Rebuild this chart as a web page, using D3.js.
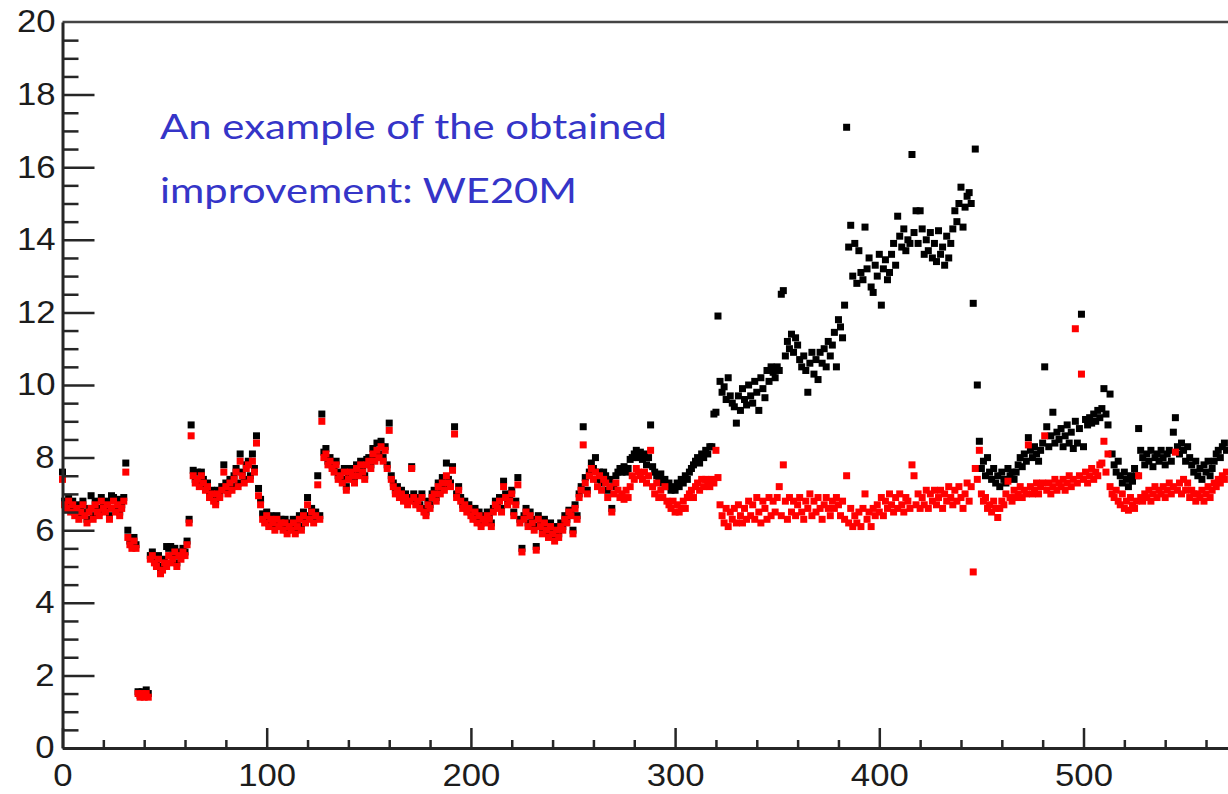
<!DOCTYPE html>
<html>
<head>
<meta charset="utf-8">
<script src="https://cdn.jsdelivr.net/npm/d3@7"></script>
<style>
  html, body { margin: 0; padding: 0; background: #fff; overflow: hidden; }
  svg { display: block; }
  .lbl text { transform-box: fill-box; transform-origin: center; transform: scaleX(1.12); }
</style>
</head>
<body>
<svg id="chart" width="1228" height="794"></svg>
<script>
// Tick labels
const xTickValues = [0, 100, 200, 300, 400, 500];
const yTickValues = [0, 2, 4, 6, 8, 10, 12, 14, 16, 18, 20];

// Series values, one per index along the x axis
const redValues = [
  7.4,6.7,6.6,6.8,6.5,6.7,6.4,6.6,6.3,6.5,
  6.7,6.4,6.2,6.5,6.6,6.3,6.7,6.5,6.4,6.8,
  6.6,6.5,6.7,6.3,6.6,6.8,6.5,6.7,6.4,6.6,
  6.8,7.6,5.8,5.6,5.5,5.7,5.5,1.5,1.4,1.5,
  1.4,1.5,1.4,5.2,5.3,5.1,5.0,5.2,4.8,
  4.9,5.1,5.0,5.3,5.1,5.2,5.4,5.0,5.3,5.2,
  5.4,5.3,5.6,6.2,8.6,7.5,7.3,7.4,7.2,7.5,
  7.3,7.1,7.2,6.9,7.0,6.8,6.7,7.0,6.9,7.1,
  7.6,7.2,7.0,7.3,7.1,7.4,7.6,7.2,7.9,7.5,
  7.3,7.7,7.8,7.4,7.9,7.6,8.4,6.95,6.7,6.3,
  6.2,6.4,6.1,6.3,6.2,6.0,6.3,6.1,6.2,6.0,
  6.2,5.9,6.1,6.0,6.2,5.9,6.1,6.3,6.0,6.4,
  6.2,6.7,6.3,6.5,6.2,6.4,7.25,6.3,9.0,8.0,
  8.1,7.8,7.9,7.7,7.6,7.8,7.4,7.5,7.3,7.6,
  7.1,7.4,7.6,7.5,7.3,7.7,7.5,7.8,7.6,7.4,
  7.8,7.9,7.7,8.1,7.9,8.2,8.0,8.3,7.9,8.2,
  7.7,8.75,7.4,7.2,7.0,7.1,6.9,7.0,6.8,6.9,
  6.7,6.8,7.7,6.9,6.7,6.8,6.6,6.9,6.5,6.4,
  6.7,6.6,6.9,7.0,6.8,7.2,7.0,7.3,7.1,7.5,
  7.3,7.2,7.65,8.65,6.9,7.1,6.8,6.6,6.7,6.5,
  6.6,6.4,6.3,6.5,6.2,6.4,6.1,6.3,6.2,6.4,
  6.3,6.1,6.5,6.7,6.6,6.8,6.5,7.2,6.9,
  6.7,6.8,7.0,6.4,6.7,7.25,6.2,5.4,6.3,6.5,
  6.1,6.4,6.2,6.0,5.45,6.3,6.1,5.9,6.2,6.0,
  5.8,6.1,5.9,5.7,6.0,5.8,6.1,6.0,6.3,6.2,
  6.5,6.4,5.9,6.6,6.3,6.9,7.1,8.35,7.3,7.0,
  7.5,7.7,7.4,7.6,7.2,7.5,7.1,7.4,7.3,6.9,
  7.2,6.5,7.0,7.3,7.1,6.9,7.0,6.85,7.1,6.9,
  7.2,7.5,7.4,7.7,7.6,7.5,7.4,7.6,7.3,7.5,
  8.2,7.2,7.0,7.3,6.9,7.1,6.9,7.2,6.8,6.7,
  6.6,6.8,6.5,6.7,6.5,6.6,6.8,6.6,6.9,7.0,
  7.1,6.9,7.2,7.3,7.1,7.4,7.2,7.4,7.3,7.2,
  7.4,7.3,8.2,7.45,6.7,6.4,6.2,6.6,6.1,6.5,
  6.3,6.6,6.2,6.7,6.4,6.2,6.6,6.3,6.8,6.4,
  6.7,6.3,6.9,6.5,6.2,6.8,6.6,6.3,6.9,6.4,
  6.8,6.5,6.9,7.2,6.4,7.8,6.8,6.3,6.9,6.5,
  6.8,6.4,6.7,6.9,6.5,6.3,6.8,6.6,7.0,6.4,
  6.8,6.5,6.9,6.6,6.3,6.7,6.9,6.6,6.4,6.8,
  6.6,6.9,6.7,6.4,6.8,6.3,7.5,6.2,6.6,
  6.1,6.4,6.2,6.5,6.1,6.6,7.0,6.3,6.5,6.1,
  6.6,6.4,6.7,6.5,6.9,6.4,6.8,6.6,7.0,6.7,
  6.5,6.9,6.6,7.0,6.7,6.5,6.9,6.8,6.6,7.8,
  7.5,6.7,7.0,6.6,6.9,6.7,7.1,6.6,7.0,6.8,
  7.1,6.7,6.9,7.1,6.6,7.0,6.8,7.2,6.9,6.7,
  7.1,6.8,7.2,6.9,6.6,7.0,7.3,6.8,7.2,4.85,
  7.7,7.4,8.2,7.0,6.8,6.9,6.6,6.7,6.5,6.8,
  6.6,6.35,6.6,6.8,6.7,7.0,7.35,6.9,6.8,7.1,
  6.9,7.0,7.2,6.9,7.1,7.0,8.35,7.2,7.0,7.1,
  7.3,7.0,7.2,7.3,8.6,7.1,7.3,7.0,7.2,7.4,
  7.1,7.3,7.2,7.4,7.1,7.3,7.5,7.2,7.4,11.55,
  7.3,7.5,10.3,7.4,7.6,7.3,7.5,7.7,7.4,7.6,
  7.5,7.8,7.85,8.45,7.6,8.1,7.2,7.0,6.9,7.1,
  6.8,6.7,7.0,6.6,6.8,6.55,6.9,6.7,6.6,6.8,
  7.5,6.9,6.8,7.0,6.9,7.1,6.8,7.0,7.2,6.9,
  7.1,7.0,7.2,6.9,7.1,7.3,7.0,7.2,8.15,7.1,
  7.3,7.0,7.4,7.1,7.3,6.9,7.1,7.0,6.8,
  7.0,6.9,7.1,6.8,7.0,7.2,6.9,7.1,7.3,7.2,
  7.4,7.3,7.5,7.4,7.6
];

const blackValues = [
  7.6,6.8,6.75,6.9,6.6,6.8,6.5,6.7,6.45,6.6,
  6.8,6.5,6.3,6.6,6.95,6.4,6.8,6.6,6.5,6.9,
  6.7,6.6,6.8,6.4,6.95,6.9,6.6,6.85,6.5,6.7,
  6.9,7.85,6.0,5.7,5.6,5.8,5.6,1.55,1.45,1.55,
  1.45,1.6,1.5,5.3,5.4,5.2,5.1,5.3,4.9,
  5.0,5.2,5.55,5.5,5.55,5.3,5.5,5.1,5.4,5.3,
  5.5,5.4,5.7,6.3,8.9,7.65,7.4,7.6,7.3,7.6,
  7.4,7.2,7.3,7.0,7.1,6.9,6.8,7.1,7.0,7.2,
  7.8,7.3,7.1,7.4,7.2,7.5,7.7,7.3,8.1,7.6,
  7.4,7.8,7.9,7.5,8.1,7.7,8.6,7.15,6.85,6.45,
  6.3,6.5,6.2,6.4,6.3,6.1,6.4,6.2,6.3,6.1,
  6.3,6.0,6.2,6.1,6.3,6.0,6.2,6.4,6.1,6.5,
  6.3,6.9,6.4,6.6,6.3,6.5,7.5,6.4,9.2,8.15,
  8.25,7.9,8.0,7.8,7.7,7.9,7.5,7.6,7.4,7.7,
  7.2,7.5,7.7,7.6,7.4,7.8,7.6,7.9,7.7,7.5,
  7.95,8.0,7.8,8.25,8.0,8.4,8.1,8.45,8.0,8.3,
  7.8,8.95,7.5,7.3,7.1,7.2,7.0,7.1,6.9,7.0,
  6.8,6.9,7.75,7.0,6.8,6.9,6.7,7.0,6.6,6.5,
  6.8,6.7,7.0,7.1,6.9,7.3,7.1,7.45,7.2,7.85,
  7.4,7.3,7.75,8.85,7.0,7.2,6.9,6.7,6.8,6.6,
  6.7,6.5,6.4,6.6,6.3,6.5,6.2,6.4,6.3,6.5,
  6.4,6.2,6.6,6.8,6.7,6.9,6.6,7.35,7.0,
  6.8,6.9,7.1,6.5,6.8,7.45,6.3,5.5,6.4,6.6,
  6.2,6.5,6.3,6.1,5.55,6.4,6.2,6.0,6.3,6.1,
  5.9,6.2,6.0,5.8,6.1,5.9,6.2,6.1,6.4,6.3,
  6.55,6.5,6.0,6.7,6.4,7.0,7.2,8.85,7.45,7.1,
  7.6,7.85,7.7,8.0,7.4,7.6,7.3,7.6,7.5,7.1,
  7.4,6.6,7.2,7.5,7.6,7.7,7.6,7.75,7.6,7.7,
  7.95,8.0,8.1,8.2,8.0,8.15,7.95,8.1,7.8,8.0,
  8.9,7.75,7.6,7.5,7.4,7.55,7.3,7.4,7.2,7.3,
  7.1,7.2,7.1,7.3,7.2,7.4,7.3,7.5,7.4,7.6,
  7.7,7.8,7.9,8.0,7.85,8.1,8.0,8.2,8.1,8.3,
  8.3,9.2,9.25,11.9,10.1,9.8,9.95,9.6,10.2,9.7,
  9.5,9.4,8.95,9.7,9.3,9.9,9.6,9.45,10.0,9.7,
  9.5,10.1,9.8,9.3,10.2,9.9,9.65,10.4,10.1,10.5,
  10.35,10.2,10.5,10.4,12.5,12.6,10.8,11.2,11.0,11.4,
  10.9,11.3,11.1,10.7,10.5,10.8,10.4,9.8,10.6,10.9,
  10.3,10.7,10.15,10.9,10.6,11.0,10.5,11.2,10.8,11.1,
  11.45,10.5,11.8,11.6,11.3,12.2,17.1,13.8,14.4,
  13.0,13.9,12.8,13.7,13.1,12.9,14.35,13.2,13.5,12.7,
  12.55,13.3,13.0,13.6,12.2,13.2,13.45,12.9,13.1,13.6,
  13.9,13.3,14.65,14.1,13.8,14.3,13.7,14.0,13.9,16.35,
  14.2,14.8,13.9,14.8,14.3,13.6,14.0,13.7,14.2,13.5,
  13.9,13.4,14.25,13.6,13.8,13.3,14.1,13.5,13.9,14.3,
  14.8,14.5,15.0,15.45,14.35,14.9,15.2,15.3,15.0,12.25,
  16.5,10.0,8.45,7.7,7.9,7.5,8.0,7.6,7.4,7.7,
  7.3,7.5,7.2,7.6,7.4,7.3,7.7,7.5,7.6,7.4,
  7.6,7.8,8.0,7.75,8.1,7.9,8.55,8.2,8.0,8.3,
  8.1,7.9,8.2,8.4,10.5,8.85,8.3,8.6,9.25,8.4,
  8.7,8.5,8.8,8.3,8.6,8.9,8.4,8.7,8.25,9.0,
  8.4,8.8,11.95,8.3,9.05,8.9,9.1,8.95,9.2,9.0,
  9.3,9.1,9.35,9.9,9.2,8.9,9.75,8.1,7.8,7.6,
  7.9,7.5,7.3,7.6,7.4,7.2,7.5,7.35,7.7,7.5,
  8.8,8.2,8.0,7.8,8.1,7.9,8.2,7.75,8.0,8.1,
  7.9,8.2,8.0,7.8,8.1,8.2,7.9,8.7,9.1,8.3,
  8.1,8.4,8.2,7.9,8.3,8.0,7.8,7.6,7.9,
  7.5,7.7,7.4,7.8,7.6,7.9,7.5,7.7,7.9,8.1,
  8.2,8.0,8.3,8.4,8.2
];

const noteLines = ["An example of the obtained", "improvement: WE20M"];

// Layout
const svg = d3.select("#chart");
const plotLeft = 62.5, plotTop = 22, plotBottom = 748;
const pxPerUnit = 2.042;

const x = d3.scaleLinear().domain([0, 600]).range([plotLeft, plotLeft + 600 * pxPerUnit]);
const y = d3.scaleLinear().domain([0, 20]).range([plotBottom, plotTop]);

const markerSize = 7;
const axisColor = "#262626";

// Top frame edge
svg.append("line")
  .attr("x1", plotLeft).attr("x2", 1228)
  .attr("y1", y(20)).attr("y2", y(20))
  .attr("stroke", "#444").attr("stroke-width", 2.5);

// Markers: black series underneath, red on top
function drawSeries(values, color) {
  svg.append("g")
    .selectAll("rect")
    .data(values)
    .join("rect")
    .attr("x", (d, i) => x(i) - markerSize / 2)
    .attr("y", d => y(d) - markerSize / 2)
    .attr("width", markerSize)
    .attr("height", markerSize)
    .attr("fill", color);
}
drawSeries(blackValues, "#000");
drawSeries(redValues, "#ff0000");

// Axes
const labelFont = "'Liberation Sans', Arial, Helvetica, sans-serif";

function styleAxis(g) {
  g.selectAll(".tick line").attr("stroke", axisColor).attr("stroke-width", 2.5);
  g.selectAll("text")
    .attr("fill", "#1c1c1c")
    .style("font-family", labelFont)
    .style("font-size", "31px");
}

const xMinor = d3.range(0, 601, 20).filter(v => v % 100 !== 0);
const yMinor = d3.range(0, 20.01, 0.5).filter(v => v % 2 !== 0);

const gxMinor = svg.append("g").attr("transform", `translate(0,${plotBottom})`)
  .call(d3.axisBottom(x).tickValues(xMinor).tickSize(-8).tickFormat(""));
gxMinor.select(".domain").remove();
styleAxis(gxMinor);

const gyMinor = svg.append("g").attr("transform", `translate(${plotLeft},0)`)
  .call(d3.axisLeft(y).tickValues(yMinor).tickSize(-16).tickFormat(""));
gyMinor.select(".domain").remove();
styleAxis(gyMinor);

const gx = svg.append("g").attr("class", "lbl").attr("transform", `translate(0,${plotBottom})`)
  .call(d3.axisBottom(x).tickValues(xTickValues).tickSizeInner(-20).tickSizeOuter(0).tickPadding(16).tickFormat(d3.format("d")));
gx.select(".domain").attr("stroke", axisColor).attr("stroke-width", 3.2);
styleAxis(gx);

const gy = svg.append("g").attr("class", "lbl").attr("transform", `translate(${plotLeft},0)`)
  .call(d3.axisLeft(y).tickValues(yTickValues).tickSizeInner(-32).tickSizeOuter(0).tickPadding(9).tickFormat(d3.format("d")));
gy.select(".domain").attr("stroke", axisColor).attr("stroke-width", 3);
styleAxis(gy);
gy.selectAll(".tick").filter(d => d === 20).select("line").remove();

// Annotation
const note = svg.append("g")
  .attr("fill", "#3535c8")
  .style("font-family", "Lato, 'Open Sans', sans-serif")
  .style("font-size", "35px");
const noteWidths = [507, 417];
const noteBaselines = [139, 203];
noteLines.forEach((t, i) => {
  note.append("text")
    .attr("x", 160)
    .attr("y", noteBaselines[i])
    .attr("textLength", noteWidths[i])
    .attr("lengthAdjust", "spacingAndGlyphs")
    .text(t);
});
</script>
</body>
</html>
